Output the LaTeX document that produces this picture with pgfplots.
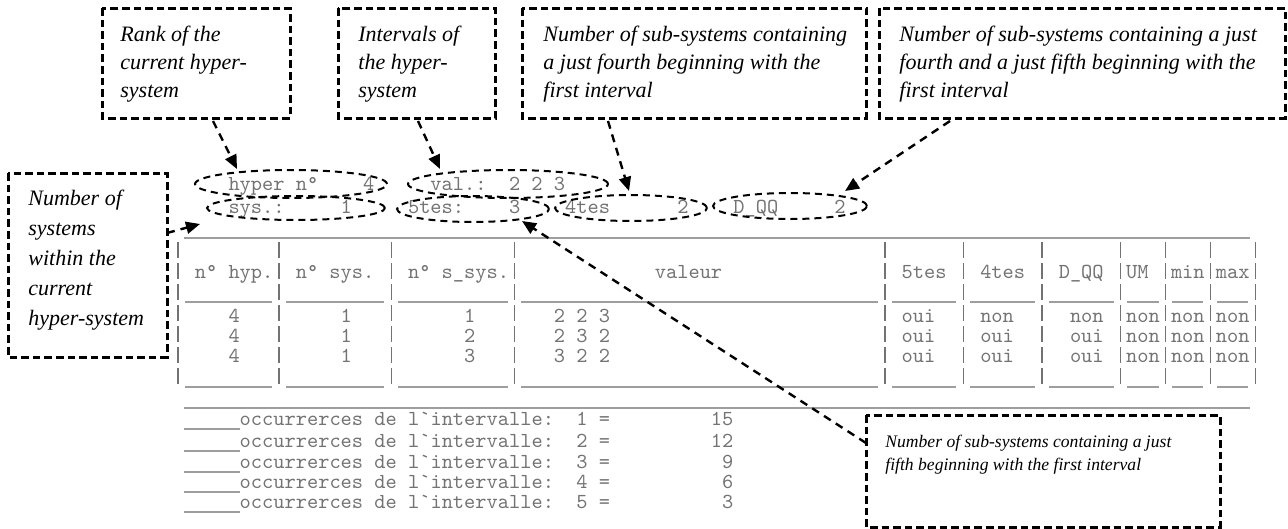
\documentclass[border=0pt]{standalone}
\usepackage{pgfplots}
\pgfplotsset{compat=1.18}
\usepackage{fontspec}
\newfontfamily\boxfont{Liberation Serif}
\usetikzlibrary{arrows.meta}
\definecolor{txtgray}{gray}{0.45}
\definecolor{rulegray}{gray}{0.62}
\newcommand{\mt}[3]{\node[mono] at (axis cs:{172.4+11.22*#1},#2) {#3};}
\newcommand{\datarow}[6]{%
  \mt{5}{#1}{4}\mt{15}{#1}{1}\mt{26}{#1}{#2}\mt{34}{#1}{#3}%
  \mt{65}{#1}{#4}\mt{72}{#1}{#5}\mt{80}{#1}{#6}%
  \mt{85}{#1}{non}\mt{89}{#1}{non}\mt{93}{#1}{non}}
\newcommand{\occ}[3]{%
  \mt{6}{#1}{occurrerces~de~l\textasciigrave intervalle:}\mt{36}{#1}{#2~=}\mt{#3}{#1}}
\begin{document}
\begin{tikzpicture}[
  mono/.style={anchor=base west, inner sep=0pt, outer sep=0pt, text=txtgray, font={\ttfamily\fontsize{10.69}{12}\selectfont}},
  btxt/.style={anchor=base west, inner sep=0pt, font={\boxfont\itshape\fontsize{11}{14}\selectfont}},
  stxt/.style={anchor=base west, inner sep=0pt, font={\boxfont\itshape\fontsize{8.8}{11}\selectfont}},
  box/.style={draw=black, line width=1.5pt, dash pattern=on 3.8pt off 2pt},
  ell/.style={draw=black, line width=1pt, dash pattern=on 3.5pt off 2.5pt},
  arr/.style={draw=black, line width=1.2pt, dash pattern=on 4pt off 3pt, -{Triangle[length=7pt,width=6pt]}},
  rule/.style={draw=rulegray, line width=1pt, no markers},
  vbar/.style={draw=txtgray, line width=0.6pt, no markers, dash pattern=on 8pt off 2.5pt},
]
\begin{axis}[x=0.5pt, y=0.5pt, y dir=reverse, xmin=0, xmax=1288, ymin=0, ymax=529,
  hide axis, scale only axis, clip=false, anchor=north west, at={(0,0)},
  unbounded coords=jump]
\path (axis cs:0,0) rectangle (axis cs:1288,529);

% ---- horizontal rules of the table ----
\addplot[rule] coordinates {(184,238) (1250,238)};
\addplot[rule] coordinates {(184,408) (1250,408)};
\addplot[rule] coordinates {(185,302)(272,302) (nan,nan) (286,302)(384,302) (nan,nan) (398,302)(508,302) (nan,nan) (521,302)(878,302) (nan,nan) (892,302)(956,302) (nan,nan) (970,302)(1035,302) (nan,nan) (1049,302)(1114,302) (nan,nan) (1127,302)(1159,302) (nan,nan) (1172,302)(1203,302) (nan,nan) (1217,302)(1248,302)};
\addplot[rule] coordinates {(185,387)(272,387) (nan,nan) (286,387)(384,387) (nan,nan) (398,387)(508,387) (nan,nan) (521,387)(878,387) (nan,nan) (892,387)(956,387) (nan,nan) (970,387)(1035,387) (nan,nan) (1049,387)(1114,387) (nan,nan) (1127,387)(1159,387) (nan,nan) (1172,387)(1203,387) (nan,nan) (1217,387)(1248,387)};
% ---- vertical bars ----
\addplot[vbar] coordinates {(178,242)(178,388) (nan,nan) (279,242)(279,388) (nan,nan) (391.2,242)(391.2,388) (nan,nan) (514.6,242)(514.6,388) (nan,nan) (884.9,242)(884.9,388) (nan,nan) (963.4,242)(963.4,388) (nan,nan) (1041.9,242)(1041.9,388) (nan,nan) (1120.5,242)(1120.5,388) (nan,nan) (1165.4,242)(1165.4,388) (nan,nan) (1210.2,242)(1210.2,388) (nan,nan) (1255.1,242)(1255.1,388)};
% ---- occurrence underscores ----
\addplot[rule] coordinates {(184,429)(240,429) (nan,nan) (184,451)(240,451) (nan,nan) (184,472)(240,472) (nan,nan) (184,492)(240,492) (nan,nan) (184,512)(240,512)};

% ---- table text ----
\mt{2}{278}{n°~hyp.}\mt{11}{278}{n°~sys.}\mt{21}{278}{n°~s\_sys.}\mt{43}{278}{valeur}
\mt{65}{278}{5tes}\mt{72}{278}{4tes}\mt{79}{278}{D\_QQ}\mt{85}{278}{UM}\mt{89}{278}{min}\mt{93}{278}{max}
\datarow{322}{1}{2~2~3}{oui}{non}{non}
\datarow{342}{2}{2~3~2}{oui}{oui}{oui}
\datarow{362}{3}{3~2~2}{oui}{oui}{oui}

\occ{425}{1}{48}{15}
\occ{447}{2}{48}{12}
\occ{468}{3}{49}{9}
\occ{488}{4}{49}{6}
\occ{508}{5}{49}{3}

% ---- top summary lines ----
\mt{5}{190}{hyper~n°}\mt{17}{190}{4}\mt{23}{190}{val.:}\mt{30}{190}{2~2~3}
\mt{5}{213}{sys.:}\mt{15}{213}{1}\mt{21}{213}{5tes:}\mt{30}{213}{3}
\mt{35}{213}{4tes}\mt{45}{213}{2}\mt{50}{213}{D\_QQ}\mt{59}{213}{2}

% ---- ellipses ----
\draw[ell] (axis cs:291,184) ellipse [x radius=48pt, y radius=7pt];
\draw[ell] (axis cs:508,184) ellipse [x radius=50pt, y radius=7pt];
\draw[ell] (axis cs:296,208) ellipse [x radius=44.5pt, y radius=6pt];
\draw[ell] (axis cs:473,209) ellipse [x radius=38pt, y radius=6.5pt];
\draw[ell] (axis cs:631,208) ellipse [x radius=38pt, y radius=6.5pt];
\draw[ell] (axis cs:790,206) ellipse [x radius=38.5pt, y radius=6.5pt];

% ---- boxes ----
\draw[box] (axis cs:102,8) rectangle (axis cs:290,118);
\draw[box] (axis cs:338,8) rectangle (axis cs:495,118);
\draw[box] (axis cs:522,8) rectangle (axis cs:866,118);
\draw[box] (axis cs:879,8) rectangle (axis cs:1285,118);
\draw[box] (axis cs:8,173) rectangle (axis cs:167,357);
\draw[box] (axis cs:866,415) rectangle (axis cs:1220,527);

\node[btxt] at (axis cs:120,41) {Rank of the};
\node[btxt] at (axis cs:120,69) {current hyper-};
\node[btxt] at (axis cs:120,97) {system};
\node[btxt] at (axis cs:358,41) {Intervals of};
\node[btxt] at (axis cs:358,69) {the hyper-};
\node[btxt] at (axis cs:358,97) {system};
\node[btxt] at (axis cs:543,41) {Number of sub-systems containing};
\node[btxt] at (axis cs:543,69) {a just fourth beginning with the};
\node[btxt] at (axis cs:543,97) {first interval};
\node[btxt] at (axis cs:899,41) {Number of sub-systems containing a just};
\node[btxt] at (axis cs:899,69) {fourth and a just fifth beginning with the};
\node[btxt] at (axis cs:899,97) {first interval};
\node[btxt] at (axis cs:28,205) {Number of};
\node[btxt] at (axis cs:28,235) {systems};
\node[btxt] at (axis cs:28,265) {within the};
\node[btxt] at (axis cs:28,295) {current};
\node[btxt] at (axis cs:28,325) {hyper-system};
\node[stxt] at (axis cs:885,447) {Number of sub-systems containing a just};
\node[stxt] at (axis cs:885,470) {fifth beginning with the first interval};

% ---- arrows ----
\draw[arr] (axis cs:213,121) -- (axis cs:237,169);
\draw[arr] (axis cs:418,121) -- (axis cs:440,169);
\draw[arr] (axis cs:608,121) -- (axis cs:629,191);
\draw[arr] (axis cs:950,121) -- (axis cs:845,191);
\draw[arr] (axis cs:167,233) -- (axis cs:200,224);
\draw[arr] (axis cs:866,443) -- (axis cs:522,221);
\end{axis}
\end{tikzpicture}
\end{document}
